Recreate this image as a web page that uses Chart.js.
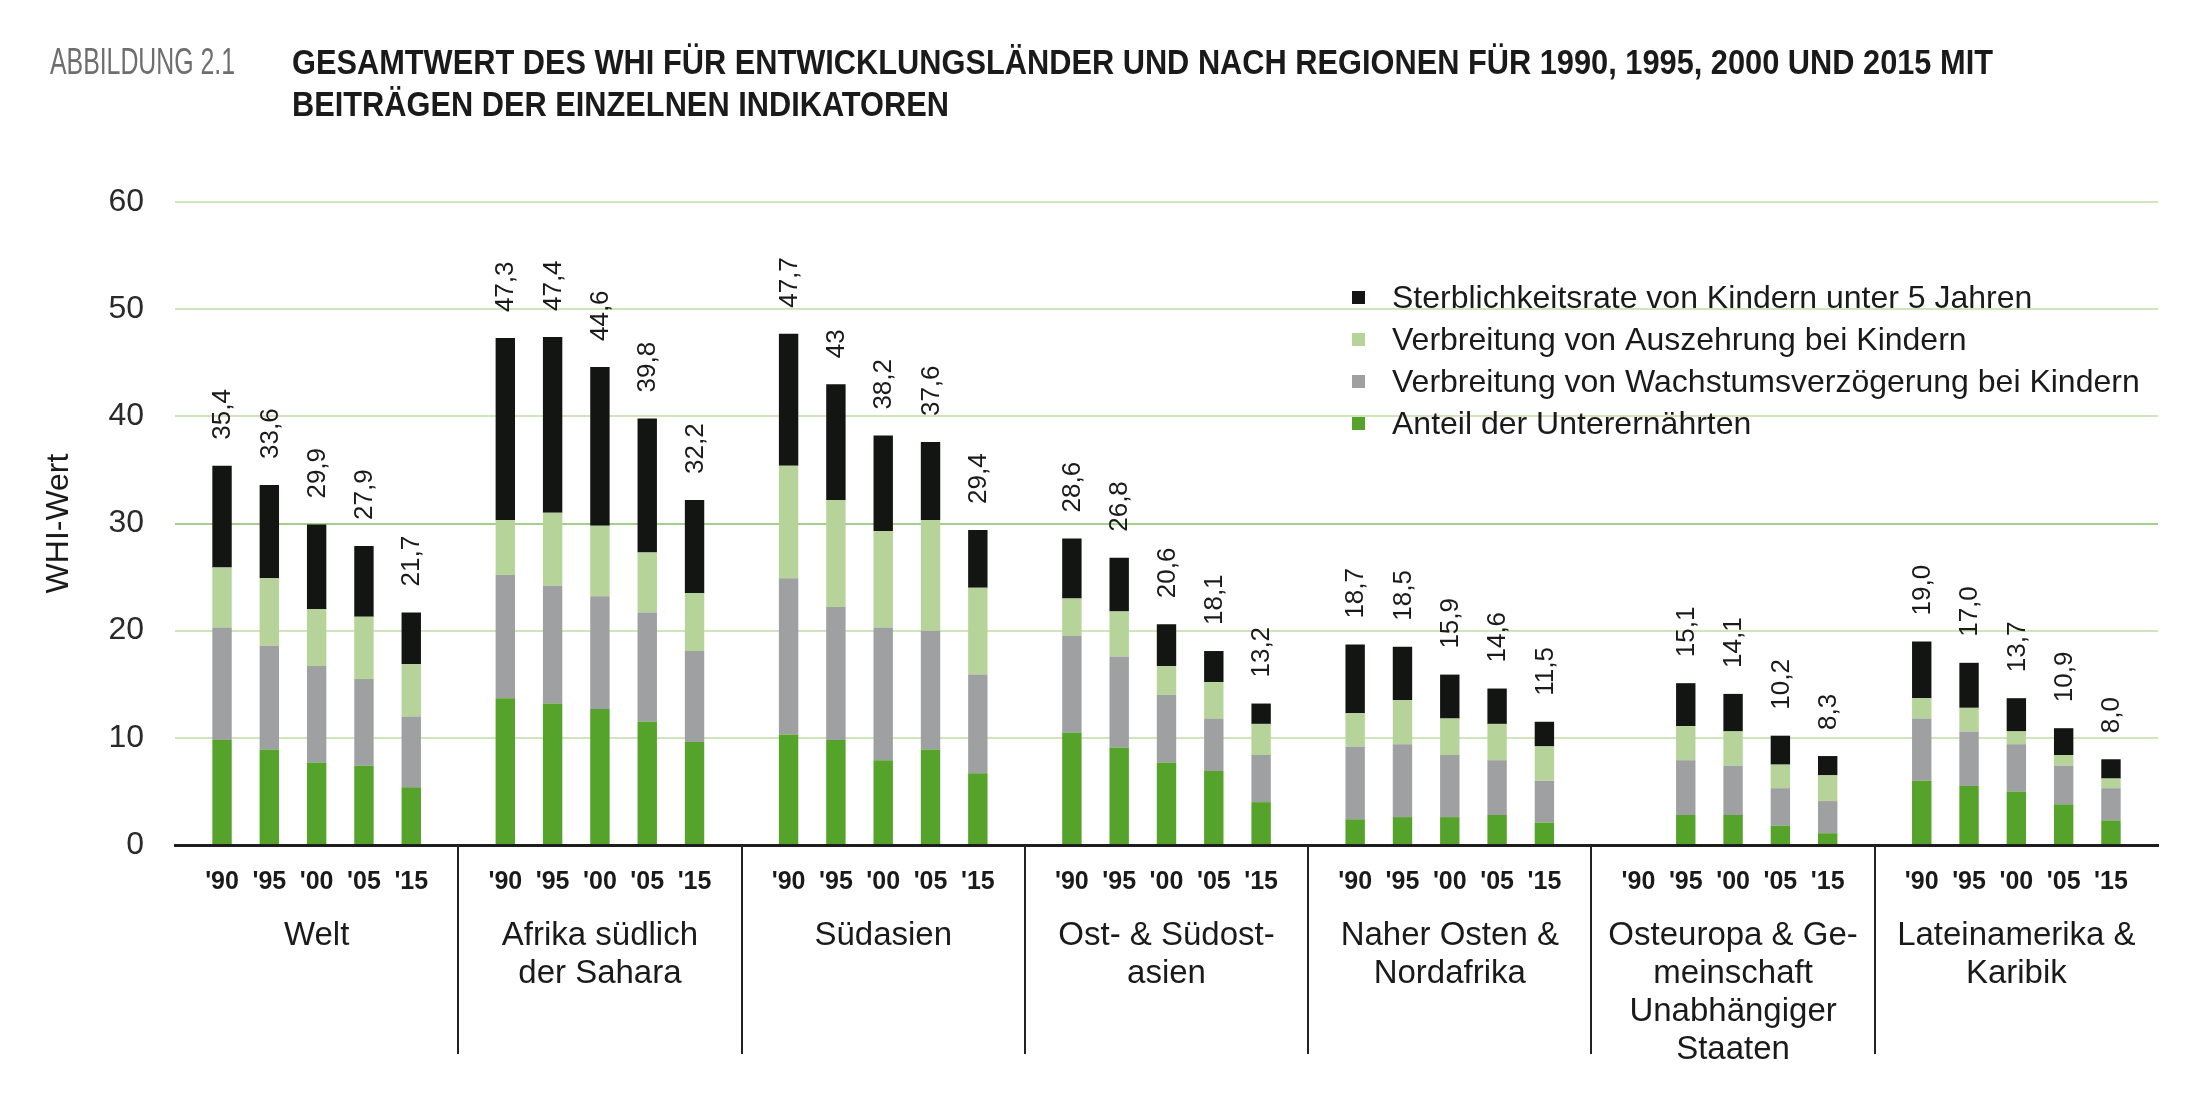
<!DOCTYPE html>
<html><head><meta charset="utf-8">
<script src="https://cdn.jsdelivr.net/npm/chart.js@4.4.0/dist/chart.umd.min.js"></script>
<style>html,body{margin:0;padding:0;background:#fff;} #wrap{width:2212px;height:1102px;position:relative;} canvas{display:block}</style>
</head><body><div id="wrap"><canvas id="c" width="2212" height="1102"></canvas></div>
<script>
const figureLabel = 'ABBILDUNG 2.1';
const titleLines = ['GESAMTWERT DES WHI FÜR ENTWICKLUNGSLÄNDER UND NACH REGIONEN FÜR 1990, 1995, 2000 UND 2015 MIT', 'BEITRÄGEN DER EINZELNEN INDIKATOREN'];
const yAxisTitle = 'WHI-Wert';
const regions = [['Welt'], ['Afrika südlich','der Sahara'], ['Südasien'], ['Ost- & Südost-','asien'], ['Naher Osten &','Nordafrika'], ['Osteuropa & Ge-','meinschaft','Unabhängiger','Staaten'], ['Lateinamerika &','Karibik']];
const years = ["'90","'95","'00","'05","'15"];
const seriesNames = ['Anteil der Unterernährten','Verbreitung von Wachstumsverzögerung bei Kindern','Verbreitung von Auszehrung bei Kindern','Sterblichkeitsrate von Kindern unter 5 Jahren'];
const seriesColors = ['#55a32a','#9fa0a1','#b6d49a','#131513'];
// values per region (rows) and year (columns)
const undernourishment = [
 [9.8,8.9,7.7,7.4,5.4],
 [13.7,13.2,12.7,11.5,9.6],
 [10.3,9.8,7.9,8.9,6.7],
 [10.5,9.1,7.7,6.9,4.0],
 [2.4,2.6,2.6,2.8,2.1],
 [null,2.8,2.8,1.8,1.1],
 [6.0,5.5,5.0,3.8,2.3]];
const stunting = [
 [10.5,9.7,9.0,8.1,6.6],
 [11.5,11.0,10.5,10.2,8.5],
 [14.6,12.4,12.4,11.1,9.2],
 [9.0,8.5,6.3,4.9,4.4],
 [6.8,6.8,5.8,5.1,3.9],
 [null,5.1,4.6,3.5,3.0],
 [5.8,5.1,4.4,3.6,3.0]];
const wasting = [
 [5.6,6.3,5.3,5.8,4.9],
 [5.1,6.8,6.6,5.6,5.4],
 [10.5,10.0,9.0,10.3,8.1],
 [3.5,4.2,2.7,3.4,2.9],
 [3.1,4.1,3.4,3.4,3.2],
 [null,3.2,3.2,2.2,2.4],
 [1.9,2.2,1.2,1.0,0.9]];
const mortality = [
 [9.5,8.7,7.9,6.6,4.8],
 [17.0,16.4,14.8,12.5,8.7],
 [12.3,10.8,8.9,7.3,5.4],
 [5.6,5.0,3.9,2.9,1.9],
 [6.4,5.0,4.1,3.3,2.3],
 [null,4.0,3.5,2.7,1.8],
 [5.3,4.2,3.1,2.5,1.8]];
const totalLabels = [
 ['35,4','33,6','29,9','27,9','21,7'],
 ['47,3','47,4','44,6','39,8','32,2'],
 ['47,7','43','38,2','37,6','29,4'],
 ['28,6','26,8','20,6','18,1','13,2'],
 ['18,7','18,5','15,9','14,6','11,5'],
 [null,'15,1','14,1','10,2','8,3'],
 ['19,0','17,0','13,7','10,9','8,0']];

const components = [undernourishment, stunting, wasting, mortality];
const datasets = [];
years.forEach((yr, j) => {
  components.forEach((comp, c) => {
    datasets.push({
      label: seriesNames[c],
      data: regions.map((_, i) => comp[i][j]),
      backgroundColor: seriesColors[c],
      borderWidth: 0,
      stack: 's' + j,
      barPercentage: 0.41,
      categoryPercentage: 0.835
    });
  });
});

const SANS = '"Liberation Sans", Arial, sans-serif';

const decorPlugin = {
  id: 'decor',
  afterDraw(chart) {
    const ctx = chart.ctx;
    const ca = chart.chartArea;
    const xs = chart.scales.x;
    // header
    ctx.save();
    ctx.fillStyle = '#6e6e6e';
    ctx.font = '36px ' + SANS;
    ctx.textBaseline = 'alphabetic';
    let w = ctx.measureText(figureLabel).width;
    ctx.translate(50, 74); ctx.scale(185 / w, 1);
    ctx.fillText(figureLabel, 0, 0);
    ctx.restore();
    ctx.save();
    ctx.fillStyle = '#1a1a1a';
    ctx.font = 'bold 35px ' + SANS;
    ctx.textBaseline = 'alphabetic';
    w = ctx.measureText(titleLines[0]).width;
    const sx = 1701 / w;
    titleLines.forEach((t, k) => {
      ctx.save(); ctx.translate(292, 74 + k * 42); ctx.scale(sx, 1); ctx.fillText(t, 0, 0); ctx.restore();
    });
    ctx.restore();
    // dividers between regions
    ctx.save();
    ctx.strokeStyle = '#222'; ctx.lineWidth = 2;
    for (let i = 1; i < regions.length; i++) {
      const x = Math.round((xs.getPixelForValue(i - 1) + xs.getPixelForValue(i)) / 2);
      ctx.beginPath(); ctx.moveTo(x, ca.bottom); ctx.lineTo(x, 1054); ctx.stroke();
    }
    ctx.restore();
    // year labels under each bar
    ctx.save();
    ctx.fillStyle = '#1a1a1a';
    ctx.font = 'bold 25px ' + SANS;
    ctx.textAlign = 'center'; ctx.textBaseline = 'middle';
    years.forEach((yr, j) => {
      const meta = chart.getDatasetMeta(j * components.length);
      meta.data.forEach(el => { ctx.fillText(yr, el.x, ca.bottom + 37); });
    });
    ctx.restore();
    // totals above bars
    ctx.save();
    ctx.fillStyle = '#1a1a1a';
    ctx.font = '26px ' + SANS;
    ctx.textAlign = 'left'; ctx.textBaseline = 'middle';
    years.forEach((yr, j) => {
      const meta = chart.getDatasetMeta(j * components.length + components.length - 1);
      meta.data.forEach((el, i) => {
        const lbl = totalLabels[i][j];
        if (lbl == null) return;
        ctx.save(); ctx.translate(el.x + 1, el.y - 26); ctx.rotate(-Math.PI / 2);
        ctx.fillText(lbl, 0, 0); ctx.restore();
      });
    });
    ctx.restore();
    // legend
    ctx.save();
    ctx.font = '32px ' + SANS;
    ctx.textBaseline = 'middle'; ctx.textAlign = 'left';
    const order = [3, 2, 1, 0];
    order.forEach((c, k) => {
      const y = ca.top + 96 + k * 42;
      ctx.fillStyle = seriesColors[c];
      ctx.fillRect(ca.left + 1177, y - 7, 13, 13);
      ctx.fillStyle = '#1a1a1a';
      ctx.fillText(seriesNames[c], ca.left + 1217, y + 1);
    });
    ctx.restore();
  }
};

new Chart(document.getElementById('c'), {
  type: 'bar',
  data: { labels: regions, datasets },
  plugins: [decorPlugin],
  options: {
    responsive: false,
    animation: false,
    events: [],
    layout: { padding: { left: 0, right: 54, top: 202, bottom: 0 } },
    plugins: { legend: { display: false }, tooltip: { enabled: false }, title: { display: false } },
    scales: {
      x: {
        stacked: true,
        grid: { display: false },
        border: { display: true, color: '#1e1e1e', width: 3 },
        ticks: {
          autoSkip: false, maxRotation: 0, minRotation: 0, padding: 64,
          color: '#1a1a1a',
          font: { family: SANS, size: 33, lineHeight: '38px' }
        },
        afterFit(scale) { scale.height = 257; }
      },
      y: {
        stacked: true,
        min: 0, max: 60,
        ticks: { stepSize: 10, padding: 31, color: '#2a2a2a', font: { family: SANS, size: 32 } },
        grid: {
          drawTicks: false,
          lineWidth: 2,
          color: (ctx) => (ctx.tick && ctx.tick.value === 30) ? '#a6cf89' : '#cfe5bb'
        },
        border: { display: false },
        title: { display: true, text: yAxisTitle, color: '#1a1a1a', font: { family: SANS, size: 32 }, padding: { top: 40, bottom: 0 } },
        afterFit(scale) { scale.width = 175; }
      }
    }
  }
});
</script>
</body></html>
